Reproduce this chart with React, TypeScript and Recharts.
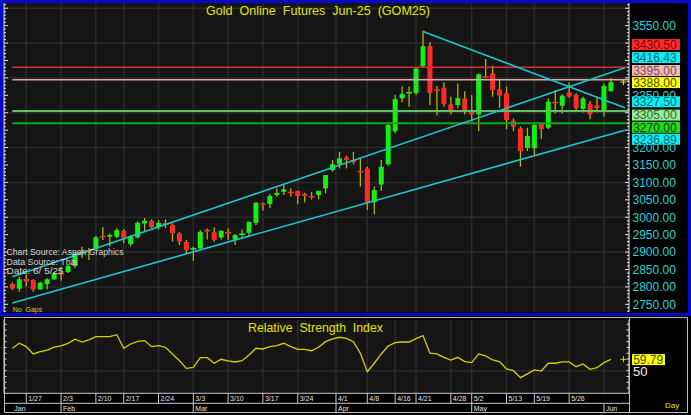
import React from "react";
import {
  Bar,
  CartesianGrid,
  ComposedChart,
  Line,
  ReferenceDot,
  ReferenceLine,
  XAxis,
  YAxis
} from "recharts";

// one entry per trading day, 1/23 .. 6/5
const opens = [
  2808, 2795, 2823, 2820, 2793, 2808, 2822, 2839, 2843, 2860, 2895, 2905, 2908, 2946, 2944, 2944, 2961, 2923, 2942, 2982,
  2990, 2971, 2982, 2978, 2954, 2929, 2908, 2911, 2963, 2957, 2942, 2957, 2936, 2949, 2955, 2984, 3040, 3038, 3064, 3073,
  3073, 3076, 3067, 3060, 3064, 3083, 3135, 3152, 3171, 3162, 3132, 3140, 3043, 3094, 3152, 3247, 3341, 3356, 3356, 3434,
  3491, 3366, 3372, 3324, 3322, 3341, 3308, 3295, 3404, 3413, 3367, 3356, 3277, 3255, 3199, 3198, 3267, 3257, 3330, 3320,
  3359, 3351, 3311, 3326, 3322, 3305, 3362
];
const highs = [
  2812, 2829, 2835, 2822, 2815, 2825, 2843, 2858, 2866, 2900, 2915, 2912, 2946, 2971, 2954, 2969, 2966, 2949, 2988, 2998,
  2994, 2992, 2994, 2982, 2958, 2935, 2915, 2963, 2968, 2971, 2963, 2968, 2952, 2965, 2987, 3042, 3042, 3067, 3083, 3094,
  3083, 3076, 3070, 3073, 3076, 3121, 3164, 3188, 3177, 3188, 3171, 3145, 3088, 3164, 3270, 3351, 3375, 3375, 3429, 3535,
  3502, 3377, 3387, 3346, 3384, 3362, 3351, 3413, 3454, 3435, 3394, 3375, 3284, 3260, 3257, 3270, 3270, 3341, 3365, 3353,
  3387, 3356, 3346, 3334, 3346, 3384, 3400
];
const lows = [
  2791, 2786, 2802, 2786, 2791, 2793, 2820, 2818, 2840, 2854, 2883, 2877, 2903, 2935, 2915, 2940, 2925, 2917, 2939, 2961,
  2968, 2965, 2968, 2930, 2920, 2896, 2875, 2908, 2936, 2930, 2936, 2935, 2920, 2944, 2944, 2978, 3019, 3026, 3059, 3064,
  3059, 3038, 3042, 3051, 3051, 3069, 3131, 3140, 3140, 3152, 3088, 3021, 3008, 3075, 3148, 3241, 3330, 3317, 3351, 3429,
  3322, 3293, 3317, 3295, 3313, 3295, 3274, 3247, 3399, 3346, 3314, 3253, 3247, 3145, 3190, 3179, 3224, 3253, 3298, 3298,
  3343, 3308, 3301, 3281, 3301, 3289, 3360
];
const closes = [
  2795, 2822, 2815, 2793, 2812, 2822, 2839, 2836, 2860, 2896, 2901, 2902, 2942, 2943, 2949, 2963, 2939, 2944, 2984, 2990,
  2971, 2984, 2980, 2954, 2930, 2906, 2911, 2958, 2960, 2935, 2961, 2954, 2949, 2953, 2987, 3042, 3035, 3061, 3070, 3080,
  3069, 3061, 3061, 3058, 3076, 3121, 3152, 3169, 3164, 3160, 3130, 3040, 3078, 3145, 3265, 3339, 3354, 3359, 3427, 3491,
  3357, 3364, 3325, 3308, 3342, 3308, 3295, 3410, 3402, 3365, 3349, 3279, 3260, 3190, 3233, 3265, 3253, 3332, 3328, 3349,
  3346, 3314, 3341, 3295, 3313, 3377, 3388
];
const rsiValues = [
  69.3, 73.6, 70.7, 64.4, 66.4, 67.8, 70.2, 71.3, 73.6, 77.1, 74.7, 76.5, 79.3, 79.3, 79.3, 81, 69.3, 73, 75.3, 75.9,
  70.7, 71.6, 70.2, 64.4, 58.6, 52, 52.9, 61.2, 61.2, 56.4, 59.8, 58.4, 57.5, 58.6, 63.5, 69.3, 68.7, 70.7, 71.6, 73.6,
  70.7, 68.4, 68.4, 67.2, 70.2, 75, 77.3, 78.8, 77.9, 75, 65, 49.1, 56.4, 64.4, 71.3, 74.1, 74.7, 74.7, 77.6, 80.2,
  65, 64.4, 61.5, 59.2, 61.5, 57.8, 56.9, 64.4, 62.7, 59.2, 57.8, 51.5, 50, 44, 47.2, 50.6, 49.7, 56.4, 56.4, 57.5,
  57.5, 53.4, 55.8, 51.2, 52.6, 56.9, 59.79
];

const weekTicks = [2, 7, 12, 16, 21, 26, 31, 36, 41, 46.5, 51, 55, 58, 63, 66, 71, 75, 80];
const weekLabels = ["1/27", "2/3", "2/10", "2/17", "2/24", "3/3", "3/10", "3/17", "3/24", "4/1", "4/8", "4/16", "4/21", "4/28", "5/2", "5/13", "5/19", "5/26"];
const monthTicks = [0, 7, 26, 46.5, 66, 85];
const monthLabels = ["Jan", "Feb", "Mar", "Apr", "May", "Jun"];
const gridDays = [...weekTicks, 85];
const priceGrid = [2800, 2900, 3000, 3100, 3200, 3300, 3400, 3500, 3600];
const priceLabels = [2750, 2800, 2850, 2900, 2950, 3000, 3050, 3100, 3150, 3200, 3350, 3550];

const levels = [3430.5, 3395, 3305, 3270];
const tagValues = [3430.5, 3416.43, 3395, 3388, 3327.5, 3305, 3270, 3236.89];
const upperChannel = [{ x: 0, y: 2829 }, { x: 88, y: 3429 }];
const lowerChannel = [{ x: 0, y: 2754 }, { x: 88, y: 3250 }];
const downTrend = [{ x: 59, y: 3533 }, { x: 88, y: 3314 }];
const lastPrice = 3388;
const lastRsi = 59.79;

const X_DOMAIN: [number, number] = [-1.2, 88.6];
const PRICE_DOMAIN: [number, number] = [2728, 3615];
const RSI_DOMAIN: [number, number] = [30.5, 94.1];
const AXIS_W = 61.5;

const levelStyle = [
  { stroke: "#d03232", width: 1.5 },
  { stroke: "#dca6a6", width: 1.5 },
  { stroke: "#62c062", width: 2 },
  { stroke: "#12a812", width: 2 }
];
const tagStyle = [
  { bg: "#ff2a2a", fg: "#7a0808", dy: -22.7 },
  { bg: "#10ecf2", fg: "#046c74", dy: -14.6 },
  { bg: "#f2b6b6", fg: "#7a5050", dy: -9.1 },
  { bg: "#ffff10", fg: "#4a4a00", dy: 0.5 },
  { bg: "#10ecf2", fg: "#046c74", dy: -1.4 },
  { bg: "#98ec98", fg: "#2a6a2a", dy: 4.1 },
  { bg: "#22d822", fg: "#064a06", dy: 4.1 },
  { bg: "#10ecf2", fg: "#046c74", dy: 4.5 }
];

const mainTicks: number[] = [];
for (let v = 2730; v <= 3610; v += 10) mainTicks.push(v);
const rsiTicks = [35, 40, 45, 50, 55, 60, 65, 70, 75, 80, 85, 90];

const candles = opens.map((o, i) => ({
  i,
  open: o,
  high: highs[i],
  low: lows[i],
  close: closes[i],
  range: [lows[i], highs[i]],
  rsi: rsiValues[i]
}));

const FONT = "'Liberation Sans', Arial, sans-serif";
const CYAN = "#1ec4d0";

const Candle = (props: any) => {
  const { x, y, width, height } = props;
  const d = props.payload ?? props;
  if (x == null || y == null || !d) return null;
  const top = Math.min(y, y + height);
  const h = Math.abs(height);
  const span = d.high - d.low || 1;
  const py = (v: number) => top + ((d.high - v) / span) * h;
  const cx = x + width / 2;
  const yo = py(d.open);
  const yc = py(d.close);
  const up = d.close > d.open + 1;
  const doji = Math.abs(yo - yc) < 1.6;
  const bt = doji ? (yo + yc) / 2 - 0.8 : Math.min(yo, yc);
  const bh = doji ? 1.6 : Math.abs(yo - yc);
  return (
    <g>
      <line x1={cx} x2={cx} y1={top} y2={top + h} stroke="#b3b300" strokeWidth={1.3} />
      <rect x={x - (doji ? 0.5 : 0)} y={bt} width={width + (doji ? 1 : 0)} height={bh} fill={up ? "#14ee14" : "#ff2a2a"} />
    </g>
  );
};

// tags are drawn as ticks of a thin extra axis so they sit above the price labels
const tagTick = (values: number[], styles: { bg: string; fg: string; dy: number }[], w: number) => (p: any) => {
  const k = values.indexOf(p.payload.value);
  if (k < 0) return null;
  const s = styles[k];
  const x = p.x - AXIS_W + 3;
  const y = p.y + s.dy;
  return (
    <g>
      <rect x={x} y={y - 5.5} width={w} height={11} fill={s.bg} />
      <text x={x + 1.2} y={y + 4.4} fontSize={12} fill={s.fg} fontFamily={FONT}>
        {values[k].toFixed(2)}
      </text>
    </g>
  );
};

const Plus = (props: any) => {
  const { cx, cy } = props;
  if (cx == null) return null;
  return (
    <g stroke="#e0e000" strokeWidth={1}>
      <line x1={cx - 3} x2={cx + 3} y1={cy} y2={cy} />
      <line x1={cx} x2={cx} y1={cy - 3} y2={cy + 3} />
    </g>
  );
};

const priceTick = (side: "left" | "right") => (p: any) => {
  const v = p.payload.value;
  const len = v % 50 === 0 ? 4 : 2;
  const dir = side === "left" ? 1 : -1;
  return (
    <g>
      <line x1={p.x} x2={p.x + dir * len} y1={p.y} y2={p.y} stroke="#e6e6e6" strokeWidth={1} />
      {side === "right" && priceLabels.includes(v) && (
        <text x={p.x + 3.5} y={p.y + 4.4} fill="#22d4d4" fontSize={12} fontFamily={FONT}>
          {v.toFixed(2)}
        </text>
      )}
    </g>
  );
};

const rsiTick = (side: "left" | "right") => (p: any) => {
  const v = p.payload.value;
  const dir = side === "left" ? 1 : -1;
  return (
    <g>
      <line x1={p.x} x2={p.x + dir * 2.5} y1={p.y} y2={p.y} stroke="#e6e6e6" strokeWidth={1} />
      {side === "right" && v === 50 && (
        <text x={p.x + 4} y={p.y + 5.4} fill="#f0f0f0" fontSize={13} fontFamily={FONT}>
          50
        </text>
      )}
    </g>
  );
};

const dateTick = (ticks: number[], labels: string[], skipFirstLine: boolean) => (p: any) => {
  const idx = ticks.indexOf(p.payload.value);
  return (
    <g>
      {!(skipFirstLine && idx === 0) && (
        <line x1={p.x} x2={p.x} y1={p.y} y2={p.y + 10} stroke="#c8c8c8" strokeWidth={1} />
      )}
      <text x={p.x + 2} y={p.y + 8} fontSize={7} fill="#e2e2e2" fontFamily={FONT}>
        {labels[idx]}
      </text>
    </g>
  );
};

function MainChart() {
  return (
    <ComposedChart width={691} height={316} data={candles} margin={{ top: 3, right: 0, bottom: 4, left: 0 }}>
      <CartesianGrid
        fill="#151515"
        stroke="#2a2a2a"
        strokeWidth={1.5}
        horizontalValues={priceGrid}
        verticalValues={gridDays}
      />
      <XAxis type="number" dataKey="i" domain={X_DOMAIN} allowDataOverflow hide ticks={gridDays} />
      <YAxis
        orientation="left"
        width={4}
        domain={PRICE_DOMAIN}
        allowDataOverflow
        ticks={mainTicks}
        interval={0}
        tickSize={0}
        tickMargin={0}
        tickLine={false}
        axisLine={{ stroke: "#e6e6e6" }}
        tick={priceTick("left")}
      />
      <YAxis
        yAxisId="r"
        orientation="right"
        width={AXIS_W}
        domain={PRICE_DOMAIN}
        allowDataOverflow
        ticks={mainTicks}
        interval={0}
        tickSize={0}
        tickMargin={0}
        tickLine={false}
        axisLine={{ stroke: "#e6e6e6" }}
        tick={priceTick("right")}
      />
      <YAxis
        yAxisId="tags"
        orientation="right"
        width={0.5}
        domain={PRICE_DOMAIN}
        allowDataOverflow
        ticks={tagValues}
        interval={0}
        tickSize={0}
        tickMargin={0}
        tickLine={false}
        axisLine={false}
        tick={tagTick(tagValues, tagStyle, 48)}
      />
      {levels.map((v, k) => (
        <ReferenceLine
          key={"lv" + k}
          segment={[{ x: 0, y: v }, { x: X_DOMAIN[1], y: v }]}
          stroke={levelStyle[k].stroke}
          strokeWidth={levelStyle[k].width}
        />
      ))}
      <Bar dataKey="range" barSize={5} shape={(p: any) => <Candle {...p} />} isAnimationActive={false} />
      <ReferenceLine segment={upperChannel} stroke={CYAN} strokeWidth={1.6} />
      <ReferenceLine segment={lowerChannel} stroke={CYAN} strokeWidth={1.6} />
      <ReferenceLine segment={downTrend} stroke={CYAN} strokeWidth={1.6} />
      <ReferenceDot x={87.8} y={lastPrice} r={3} shape={(p: any) => <Plus {...p} />} />
    </ComposedChart>
  );
}

function RsiChart() {
  return (
    <ComposedChart width={691} height={99} data={candles} margin={{ top: 3.5, right: 0, bottom: 1.7, left: 0 }}>
      <CartesianGrid
        xAxisId="a1"
        fill="#151515"
        stroke="#2a2a2a"
        strokeWidth={1.5}
        horizontalValues={[50]}
        verticalValues={gridDays}
      />
      <XAxis
        xAxisId="a1"
        type="number"
        dataKey="i"
        domain={X_DOMAIN}
        allowDataOverflow
        ticks={weekTicks}
        interval={0}
        height={10}
        tickSize={0}
        tickMargin={0}
        tickLine={false}
        axisLine={{ stroke: "#c8c8c8" }}
        tick={dateTick(weekTicks, weekLabels, false)}
      />
      <XAxis
        xAxisId="b2"
        type="number"
        dataKey="i"
        domain={X_DOMAIN}
        allowDataOverflow
        ticks={monthTicks}
        interval={0}
        height={10}
        tickSize={0}
        tickMargin={0}
        tickLine={false}
        axisLine={{ stroke: "#c8c8c8" }}
        tick={dateTick(monthTicks, monthLabels, true)}
      />
      <YAxis
        orientation="left"
        width={4}
        domain={RSI_DOMAIN}
        allowDataOverflow
        ticks={rsiTicks}
        interval={0}
        tickSize={0}
        tickMargin={0}
        tickLine={false}
        axisLine={{ stroke: "#e6e6e6" }}
        tick={rsiTick("left")}
      />
      <YAxis
        yAxisId="r"
        orientation="right"
        width={AXIS_W}
        domain={RSI_DOMAIN}
        allowDataOverflow
        ticks={rsiTicks}
        interval={0}
        tickSize={0}
        tickMargin={0}
        tickLine={false}
        axisLine={{ stroke: "#e6e6e6" }}
        tick={rsiTick("right")}
      />
      <YAxis
        yAxisId="tags"
        orientation="right"
        width={0.5}
        domain={RSI_DOMAIN}
        allowDataOverflow
        ticks={[lastRsi]}
        interval={0}
        tickSize={0}
        tickMargin={0}
        tickLine={false}
        axisLine={false}
        tick={tagTick([lastRsi], [{ bg: "#ffff10", fg: "#4a4a00", dy: 0.3 }], 33)}
      />
      <Line
        xAxisId="a1"
        type="linear"
        dataKey="rsi"
        stroke="#d2d200"
        strokeWidth={1.3}
        dot={false}
        isAnimationActive={false}
      />
      <ReferenceDot xAxisId="a1" x={87.8} y={lastRsi} r={3} shape={(p: any) => <Plus {...p} />} />
    </ComposedChart>
  );
}

export default function App() {
  return (
    <div style={{ position: "absolute", left: 0, top: 0, width: 691, height: 415, background: "#000", overflow: "hidden", fontFamily: FONT }}>
      <div style={{ position: "absolute", left: 0, top: 0 }}>
        <MainChart />
      </div>
      <div style={{ position: "absolute", left: 0, top: 316 }}>
        <RsiChart />
      </div>
      <div style={{ position: "absolute", left: 4, top: 317, width: 684, height: 96, border: "1px solid #bdbdbd", boxSizing: "border-box", pointerEvents: "none" }} />
      <div style={{ position: "absolute", left: 629, top: 317, width: 1, height: 96, background: "#bdbdbd" }} />
      <div style={{ position: "absolute", left: 0, top: 0, width: 691, height: 316, border: "3px solid #0808c8", boxSizing: "border-box", pointerEvents: "none" }} />
      <svg width={691} height={415} style={{ position: "absolute", left: 0, top: 0, pointerEvents: "none" }}>
        <text x={206} y={14.8} fontSize={13.5} fill="#e4e40a" textLength={224} lengthAdjust="spacingAndGlyphs" style={{ whiteSpace: "pre" }}>
          {"Gold  Online  Futures  Jun-25  (GOM25)"}
        </text>
        <g fontSize={8.5} fill="#d6d6d6" style={{ whiteSpace: "pre" }}>
          <text x={6.5} y={255} textLength={117} lengthAdjust="spacingAndGlyphs">{"Chart  Source:  Aspen  Graphics"}</text>
          <text x={6.5} y={264.5} textLength={71} lengthAdjust="spacingAndGlyphs">{"Data  Source:  Thai"}</text>
          <text x={6.5} y={273.8} textLength={57} lengthAdjust="spacingAndGlyphs">{"Date:     6/ 5/25"}</text>
        </g>
        <text x={12.7} y={311.5} fontSize={7} fill="#d0d000" style={{ whiteSpace: "pre" }}>{"No  Gaps"}</text>
        <text x={248} y={332} fontSize={13.5} fill="#e4e40a" textLength={135} lengthAdjust="spacingAndGlyphs" style={{ whiteSpace: "pre" }}>
          {"Relative  Strength  Index"}
        </text>
        <text x={665} y={408} fontSize={8} fill="#e4e40a">Day</text>
      </svg>
    </div>
  );
}
